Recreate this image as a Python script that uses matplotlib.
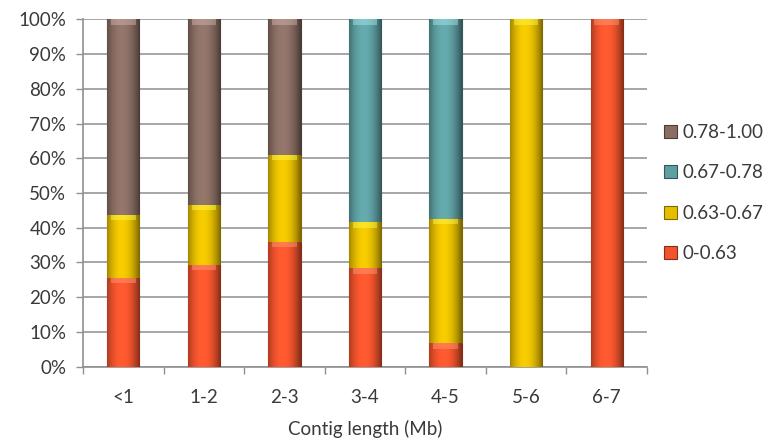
import numpy as np
import matplotlib

matplotlib.use("Agg")
import matplotlib.pyplot as plt
from matplotlib.colors import LinearSegmentedColormap, to_rgb

categories = ["<1", "1-2", "2-3", "3-4", "4-5", "5-6", "6-7"]

# percent of contigs per identity class
share_0_063 = [25.6, 29.3, 36.0, 28.4, 6.7, 0.0, 100.0]
share_063_067 = [18.1, 17.3, 25.0, 13.2, 35.9, 100.0, 0.0]
share_067_078 = [0.0, 0.0, 0.0, 58.4, 57.4, 0.0, 0.0]
share_078_100 = [56.3, 53.4, 39.0, 0.0, 0.0, 0.0, 0.0]

series = [
    ("0-0.63", share_0_063, "#F2542D"),
    ("0.63-0.67", share_063_067, "#E6BE00"),
    ("0.67-0.78", share_067_078, "#5E9FA2"),
    ("0.78-1.00", share_078_100, "#8A6E64"),
]

plt.rcParams["font.family"] = ["Lato", "DejaVu Sans"]

fig = plt.figure(figsize=(7.71, 4.42), dpi=100)
ax = fig.add_axes([0.1077, 0.1704, 0.7315, 0.7859])

x = np.arange(len(categories))
bottom = np.zeros(len(categories))
grad = np.linspace(0, 1, 64)
shade = 1.08 - 0.45 * (2 * np.abs(grad - 0.45)) ** 2

bar_groups = []
for label, values, color in series:
    vals = np.array(values)
    rgb = np.array(to_rgb(color))
    dark = rgb * 0.55
    bars = ax.bar(x, vals, width=0.4, bottom=bottom, color=color,
                  edgecolor=tuple(dark), linewidth=0.8, label=label, zorder=3)
    bar_groups.append((bars, rgb))
    bottom = bottom + vals

# horizontal shading inside each bar to mimic the bevelled look
for bars, rgb in bar_groups:
    colors = [np.clip(rgb * s, 0, 1) for s in shade]
    cmap = LinearSegmentedColormap.from_list("bev", colors)
    for patch in bars:
        if patch.get_height() <= 0:
            continue
        x0, y0 = patch.get_x(), patch.get_y()
        w, h = patch.get_width(), patch.get_height()
        im = ax.imshow(grad[np.newaxis, :], cmap=cmap, aspect="auto",
                       extent=[x0, x0 + w, y0, y0 + h], zorder=3.5,
                       interpolation="bilinear")
        im.set_clip_path(patch)
        # soft light cap at the top of each segment
        ch = min(1.6, h * 0.3)
        ax.add_patch(plt.Rectangle((x0 + w * 0.12, y0 + h - ch),
                                   w * 0.76, ch,
                                   color=tuple(np.clip(rgb + 0.3, 0, 1)),
                                   alpha=0.45, lw=0, zorder=3.6))

ax.set_xlim(-0.5, len(categories) - 0.5)
ax.set_ylim(0, 100)
ax.set_yticks(np.arange(0, 101, 10))
ax.set_yticklabels([f"{v}%" for v in range(0, 101, 10)])
ax.set_xticks(x)
ax.set_xticklabels(categories)
ax.set_xticks(np.arange(-0.5, len(categories)), minor=True)
ax.tick_params(axis="x", which="major", length=0, pad=16, labelsize=13.5,
               labelcolor="#3a3a3a")
ax.tick_params(axis="x", which="minor", length=5, color="#909090", width=1,
               direction="out")
ax.tick_params(axis="y", length=5, color="#909090", width=1, labelsize=13.5,
               labelcolor="#3a3a3a", pad=7)

ax.grid(axis="y", color="#A6A6A6", linewidth=1.4, zorder=0)
ax.set_axisbelow(True)
for side in ["top", "right"]:
    ax.spines[side].set_visible(False)
for side in ["left", "bottom"]:
    ax.spines[side].set_color("#909090")
    ax.spines[side].set_linewidth(1.2)

ax.set_xlabel("Contig length (Mb)", fontsize=13.5, color="#3a3a3a", labelpad=10)

handles, labels = ax.get_legend_handles_labels()
ax.legend(handles[::-1], labels[::-1], loc="center left",
          bbox_to_anchor=(1.0, 0.5), frameon=False, fontsize=13.5,
          handlelength=0.7, handleheight=0.7, handletextpad=0.3,
          labelspacing=1.25, labelcolor="#3a3a3a")

fig.savefig("out.png", dpi=100)
